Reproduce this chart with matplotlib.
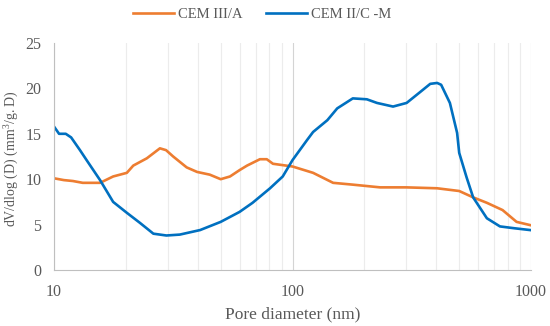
import numpy as np
import matplotlib
matplotlib.use("Agg")
import matplotlib.pyplot as plt
from matplotlib.ticker import FixedLocator, NullFormatter

# pore diameter (nm) and dV/dlog(D)
d_cem3 = [10, 11, 12, 13.2, 15.6, 17.7, 20.2, 21.5, 24.5, 27.8, 29.5, 31.6, 36,
          39.8, 45, 50, 54.7, 60, 64.5, 73, 78, 82.8, 100, 122, 148, 179, 233,
          300, 404, 500, 572, 653, 760, 870, 990]
v_cem3 = [10.1, 9.9, 9.8, 9.6, 9.6, 10.3, 10.7, 11.5, 12.3, 13.4, 13.2, 12.5, 11.3,
          10.8, 10.5, 10.0, 10.3, 11.0, 11.5, 12.2, 12.2, 11.7, 11.4, 10.7, 9.6, 9.4, 9.1,
          9.1, 9.0, 8.7, 8.0, 7.4, 6.6, 5.3, 4.95]

d_cem2 = [10, 10.5, 11.2, 11.8, 12.85, 13.7, 15.6, 17.7, 20.2, 22.9, 26.1, 29.6, 33.7, 41,
          50, 60, 68, 80.5, 91, 100, 115, 122, 140, 154, 179, 205, 226, 264, 301, 343,
          378, 404, 420, 457, 490, 500, 537, 572, 653, 741, 850, 990]
v_cem2 = [15.8, 15.0, 15.0, 14.6, 13.2, 12.1, 9.9, 7.5, 6.3, 5.2, 4.0, 3.8, 3.9, 4.4,
          5.3, 6.4, 7.4, 9.0, 10.3, 12.1, 14.3, 15.2, 16.5, 17.8, 18.9, 18.8, 18.4, 18.0, 18.4, 19.6,
          20.5, 20.6, 20.4, 18.4, 15.1, 12.9, 10.2, 8.0, 5.7, 4.8, 4.6, 4.4]

W, H = 550, 326
fig = plt.figure(figsize=(W / 100, H / 100), dpi=100)
plt.rcParams['font.family'] = ['Liberation Serif', 'DejaVu Serif']
plt.rcParams['mathtext.fontset'] = 'custom'
plt.rcParams['mathtext.rm'] = 'Liberation Serif'
ax = fig.add_axes([54 / W, 1 - 270 / H, (531 - 54) / W, (270 - 43) / H])

grey = '#595959'
ax.plot(d_cem3, v_cem3, color='#ED7D31', lw=1.9, label='CEM III/A')
ax.plot(d_cem2, v_cem2, color='#0070C0', lw=1.9, label='CEM II/C -M')

ax.set_xscale('log')
ax.set_xlim(10, 1000)
ax.set_ylim(0, 25)
ax.set_xticks([10, 100, 1000])
ax.set_xticklabels(['10', '100', '1000'])
ax.xaxis.set_minor_locator(FixedLocator([k * 10 ** e for e in (1, 2) for k in range(2, 10)]))
ax.xaxis.set_minor_formatter(NullFormatter())
ax.set_yticks([0, 5, 10, 15, 20, 25])

ax.grid(axis='x', which='minor', color='#ececec', lw=0.8)
ax.grid(axis='x', which='major', color='#d4d4d4', lw=0.8)
ax.set_axisbelow(True)

for s in ('top', 'right'):
    ax.spines[s].set_visible(False)
for s in ('left', 'bottom'):
    ax.spines[s].set_color('#bfbfbf')
ax.tick_params(axis='both', which='both', length=0, colors=grey, labelsize=11.5)
ax.tick_params(axis='y', pad=9)
ax.tick_params(axis='x', pad=10)

ax.set_xlabel('Pore diameter (nm)', color=grey, fontsize=12.5, labelpad=5)
ax.set_ylabel('dV/dlog (D) (mm$\\mathrm{^3}$/g. D)', color=grey, fontsize=10)
ax.yaxis.set_label_coords(-(54 - 21) / (531 - 54), 0.49)

fig.legend(loc='center', bbox_to_anchor=(262 / W, 1 - 14 / H), ncol=2, frameon=False,
           fontsize=10.5, labelcolor=grey, handlelength=2.8, columnspacing=1.6, handletextpad=0.3)

fig.savefig('out.png', dpi=100)
